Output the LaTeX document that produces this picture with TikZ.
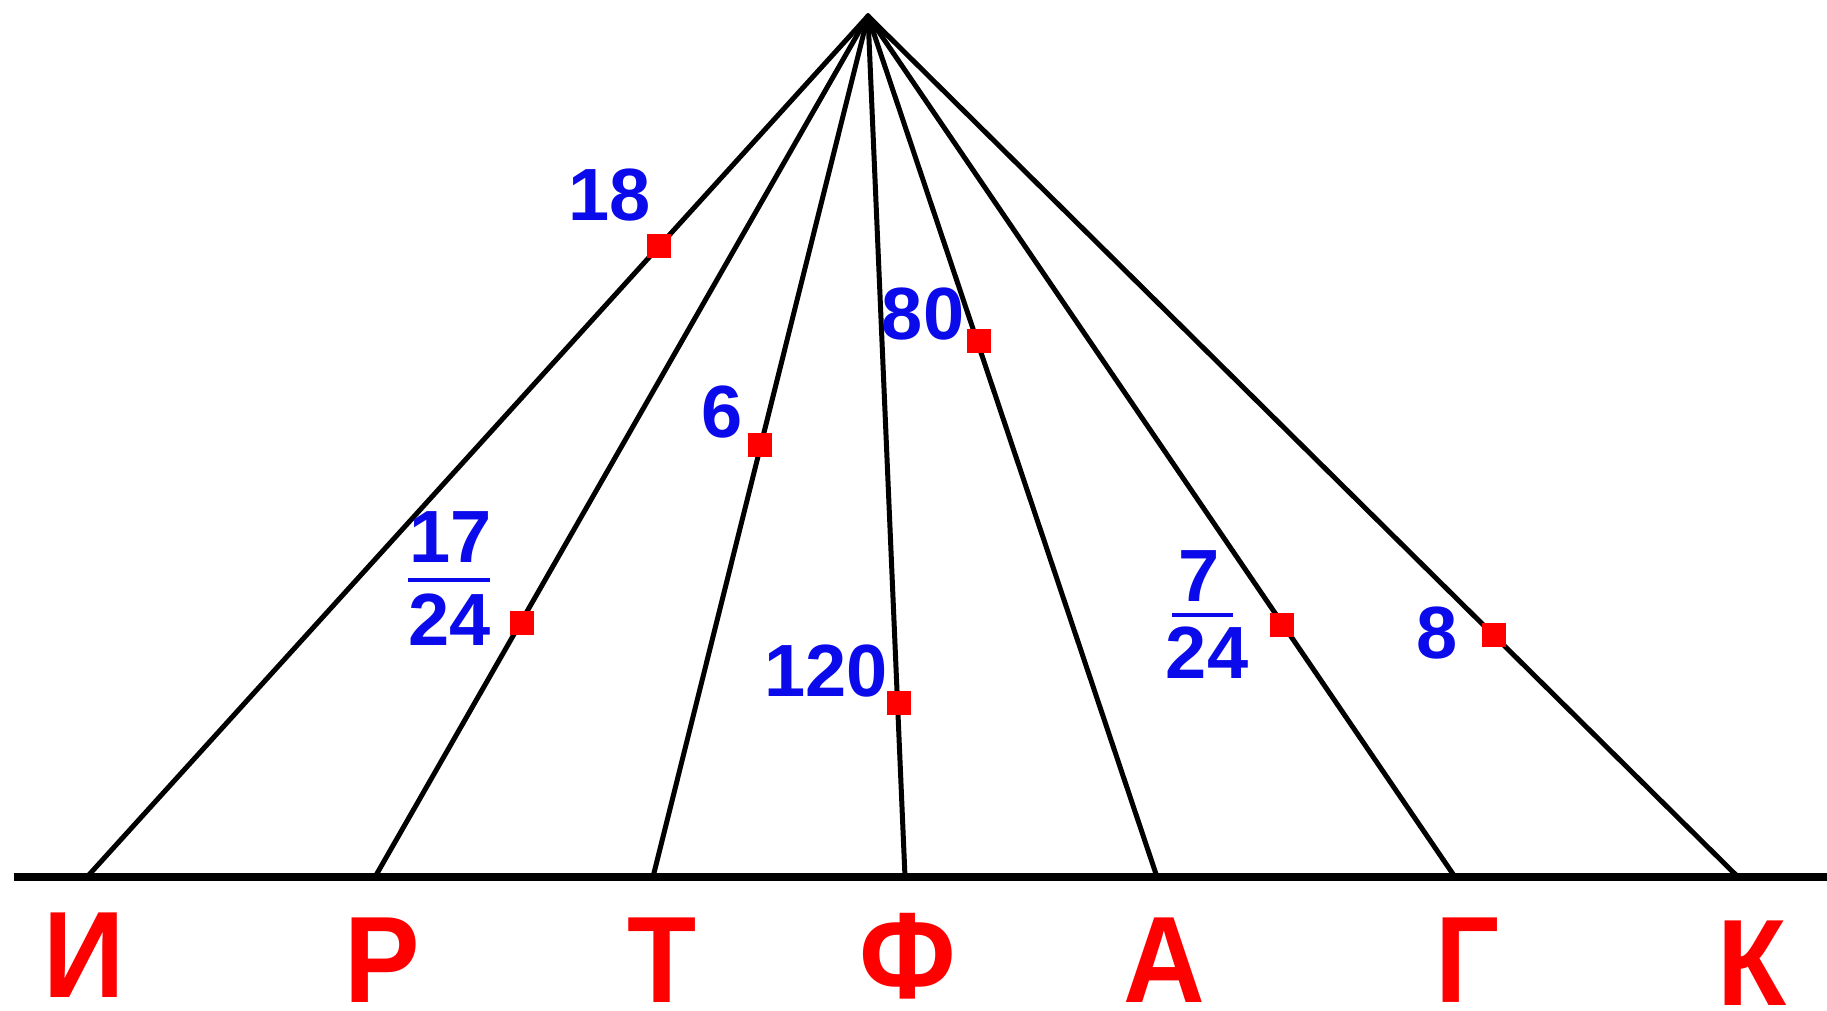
\documentclass[tikz,border=0pt]{standalone}
\usepackage{fontspec}
\setmainfont{Liberation Sans}
\definecolor{numblue}{RGB}{10,10,235}
\begin{document}
\begin{tikzpicture}[x=1pt,y=-1pt,
  ray/.style={line width=5pt, line cap=round, line join=round},
  groundline/.style={line width=7.5pt},
  sq/.style={fill=red, minimum size=24pt, inner sep=0pt, draw=none},
  lbl/.style={text=numblue, font=\fontsize{74}{80}\selectfont\bfseries, inner sep=0pt},
  letter/.style={text=red, font=\fontsize{123}{130}\selectfont\bfseries, inner sep=0pt, anchor=base, text depth=0pt},
  fracbar/.style={draw=numblue, line width=4pt}]
\fill[white] (0,0) rectangle (1827,1010);
\useasboundingbox (0,0) rectangle (1827,1010);
% points
\coordinate (apex) at (868,16);
\coordinate (L) at (14,877);
\coordinate (R) at (1827,877);
\coordinate (bI) at (87,877);
\coordinate (bR) at (375,877);
\coordinate (bT) at (653,877);
\coordinate (bF) at (905,877);
\coordinate (bA) at (1157,877);
\coordinate (bG) at (1455,877);
\coordinate (bK) at (1738,877);
% rays
\foreach \b in {bI,bR,bT,bF,bA,bG,bK}
  \draw[ray] (apex) -- (\b);
\draw[groundline] (L) -- (R);
% squares
\node[sq] (s1) at (659,246) {};
\node[sq] (s2) at (522,623) {};
\node[sq] (s3) at (760,445) {};
\node[sq] (s4) at (899,703) {};
\node[sq] (s5) at (979,341) {};
\node[sq] (s6) at (1282,625) {};
\node[sq] (s7) at (1494,635) {};
% labels
\node[lbl] (n18) at (610,195) {18};
\node[lbl] (n17) at (451,537) {17};
\node[lbl] (d24a) at (450,620) {24};
\coordinate (fa1) at (408,580);
\coordinate (fa2) at (490,580);
\draw[fracbar] (fa1) -- (fa2);
\node[lbl] (n6) at (722,412) {6};
\node[lbl] (n120) at (826,671) {120};
\node[lbl] (n80) at (923,314) {80};
\node[lbl] (n7) at (1199,576) {7};
\node[lbl] (d24b) at (1207,653) {24};
\coordinate (fb1) at (1172,615);
\coordinate (fb2) at (1233,615);
\draw[fracbar] (fb1) -- (fb2);
\node[lbl] (n8) at (1437,633) {8};
% letters
\node[letter] (tI) at (84,997) {\scalebox{0.92}[1]{И}};
\node[letter] (tR) at (382,1002) {\scalebox{0.92}[1]{Р}};
\node[letter] (tT) at (662,1002) {\scalebox{0.92}[1]{Т}};
\node[letter] (tF) at (908,998) {\scalebox{0.92}[1]{Ф}};
\node[letter] (tA) at (1164,1002) {\scalebox{0.92}[1]{А}};
\node[letter] (tG) at (1468,1002) {\scalebox{0.92}[1]{Г}};
\node[letter] (tK) at (1752,1005) {\scalebox{0.92}[1]{К}};
\end{tikzpicture}
\end{document}
